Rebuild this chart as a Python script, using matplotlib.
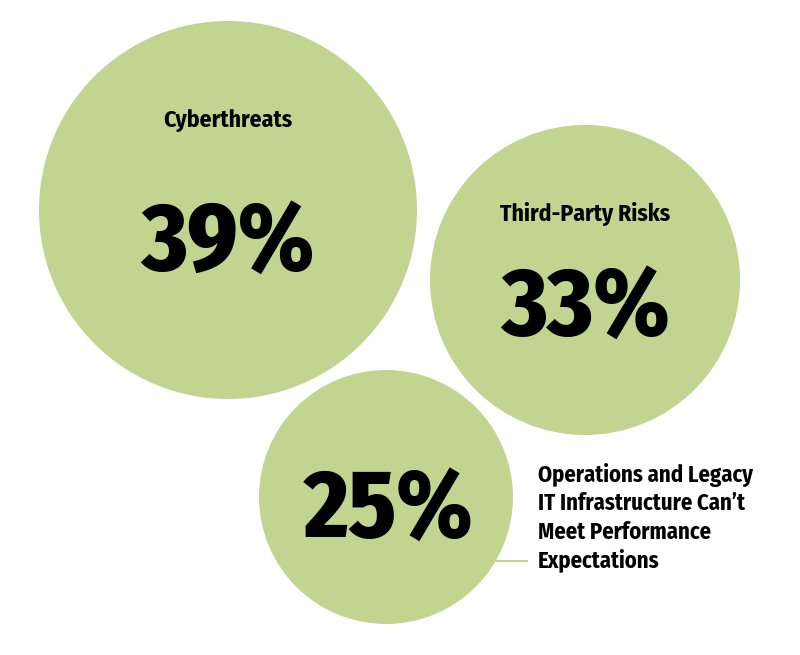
import matplotlib as mpl
mpl.use('Agg')
import matplotlib.pyplot as plt
from matplotlib.patches import Circle
from matplotlib import font_manager

categories = ['Cyberthreats', 'Third-Party Risks',
              'Operations and Legacy\nIT Infrastructure Can\u2019t\nMeet Performance\nExpectations']
values = [39, 33, 25]

# layout (pixel coords of the 800x655 canvas)
centers = [(228, 210), (585, 280), (386, 497)]
radii = [189, 155, 127]
green = '#C2D590'

names = {f.name for f in font_manager.fontManager.ttflist}
font = 'DejaVu Sans'
for cand in ['Fira Sans Condensed', 'Fira Sans Extra Condensed', 'Barlow Condensed', 'Asap Condensed']:
    if cand in names:
        font = cand
        break

fig = plt.figure(figsize=(8, 6.55), dpi=100)
ax = fig.add_axes([0, 0, 1, 1])
ax.set_xlim(0, 800)
ax.set_ylim(655, 0)
ax.set_aspect('equal')
ax.axis('off')

for (cx, cy), r in zip(centers, radii):
    ax.add_patch(Circle((cx, cy), r, facecolor=green, edgecolor='none'))

# big numbers (baseline positions)
num_pos = [(228, 270), (585, 335), (389, 537)]
for (x, y), v in zip(num_pos, values):
    ax.text(x, y, f'{v}%', ha='center', va='baseline', fontsize=69,
            fontweight='heavy', family=font, color='black')

# labels inside
ax.text(228, 127, categories[0], ha='center', va='baseline', fontsize=17,
        fontweight='bold', family=font)
ax.text(585, 221, categories[1], ha='center', va='baseline', fontsize=17,
        fontweight='bold', family=font)

# callout for the third one
ax.plot([497, 527], [561, 561], color=green, lw=1.5)
for i, line in enumerate(categories[2].split('\n')):
    ax.text(538, 482 + i * 28.3, line, ha='left', va='baseline', fontsize=16.3,
            fontweight='bold', family=font)

fig.savefig('out.png', dpi=100)
plt.close(fig)
